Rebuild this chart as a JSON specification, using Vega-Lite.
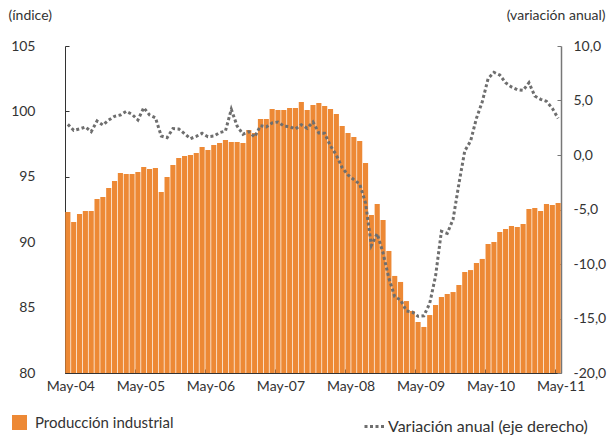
{
  "$schema": "https://vega.github.io/schema/vega-lite/v6.json",
  "autosize": {"type": "none"},
  "padding": {"left": 65, "top": 46, "right": 52, "bottom": 63},
  "width": 496,
  "height": 327,
  "config": {
    "view": {"stroke": null},
    "font": "Lato",
    "axis": {"grid": false, "labelFont": "Lato", "labelFontSize": 14, "labelColor": "#333333", "titleFont": "Lato", "titleFontSize": 14, "titleFontWeight": "normal", "titleColor": "#333333"},
    "legend": {"labelFont": "Lato", "labelFontSize": 15, "labelColor": "#333333", "padding": 0, "labelLimit": 400}
  },
  "data": {"values": [
    {"mes":"May-04","ip":92.31,"va":2.81},
    {"mes":"Jun-04","ip":91.54,"va":2.26},
    {"mes":"Jul-04","ip":92.16,"va":2.39},
    {"mes":"Ago-04","ip":92.39,"va":2.57},
    {"mes":"Sep-04","ip":92.39,"va":2.14},
    {"mes":"Oct-04","ip":93.30,"va":3.12},
    {"mes":"Nov-04","ip":93.46,"va":2.75},
    {"mes":"Dic-04","ip":94.14,"va":3.21},
    {"mes":"Ene-05","ip":94.68,"va":3.55},
    {"mes":"Feb-05","ip":95.29,"va":3.67},
    {"mes":"Mar-05","ip":95.21,"va":4.0},
    {"mes":"Abr-05","ip":95.21,"va":3.73},
    {"mes":"May-05","ip":95.37,"va":3.21},
    {"mes":"Jun-05","ip":95.75,"va":4.34},
    {"mes":"Jul-05","ip":95.60,"va":3.67},
    {"mes":"Ago-05","ip":95.67,"va":3.42},
    {"mes":"Sep-05","ip":93.84,"va":1.74},
    {"mes":"Oct-05","ip":94.98,"va":1.59},
    {"mes":"Nov-05","ip":95.90,"va":2.42},
    {"mes":"Dic-05","ip":96.44,"va":2.39},
    {"mes":"Ene-06","ip":96.59,"va":1.95},
    {"mes":"Feb-06","ip":96.67,"va":1.50},
    {"mes":"Mar-06","ip":96.82,"va":1.71},
    {"mes":"Abr-06","ip":97.28,"va":1.99},
    {"mes":"May-06","ip":97.05,"va":1.68},
    {"mes":"Jun-06","ip":97.43,"va":1.74},
    {"mes":"Jul-06","ip":97.58,"va":2.05},
    {"mes":"Ago-06","ip":97.81,"va":2.20},
    {"mes":"Sep-06","ip":97.66,"va":4.19},
    {"mes":"Oct-06","ip":97.66,"va":2.66},
    {"mes":"Nov-06","ip":97.58,"va":1.90},
    {"mes":"Dic-06","ip":98.58,"va":2.14},
    {"mes":"Ene-07","ip":98.35,"va":1.65},
    {"mes":"Feb-07","ip":99.42,"va":2.69},
    {"mes":"Mar-07","ip":99.42,"va":2.57},
    {"mes":"Abr-07","ip":100.18,"va":2.94},
    {"mes":"May-07","ip":100.11,"va":3.03},
    {"mes":"Jun-07","ip":100.11,"va":2.66},
    {"mes":"Jul-07","ip":100.26,"va":2.60},
    {"mes":"Ago-07","ip":100.26,"va":2.39},
    {"mes":"Sep-07","ip":100.72,"va":2.78},
    {"mes":"Oct-07","ip":100.11,"va":2.45},
    {"mes":"Nov-07","ip":100.49,"va":3.03},
    {"mes":"Dic-07","ip":100.64,"va":2.02},
    {"mes":"Ene-08","ip":100.41,"va":1.99},
    {"mes":"Feb-08","ip":100.18,"va":0.83},
    {"mes":"Mar-08","ip":99.80,"va":0.0},
    {"mes":"Abr-08","ip":98.88,"va":-1.16},
    {"mes":"May-08","ip":98.35,"va":-1.83},
    {"mes":"Jun-08","ip":98.04,"va":-2.26},
    {"mes":"Jul-08","ip":97.74,"va":-2.66},
    {"mes":"Ago-08","ip":96.06,"va":-4.4},
    {"mes":"Sep-08","ip":92.08,"va":-8.3},
    {"mes":"Oct-08","ip":92.92,"va":-7.22},
    {"mes":"Nov-08","ip":91.70,"va":-8.99},
    {"mes":"Dic-08","ip":89.33,"va":-11.3},
    {"mes":"Ene-09","ip":87.42,"va":-13.0},
    {"mes":"Feb-09","ip":86.96,"va":-13.3},
    {"mes":"Mar-09","ip":85.50,"va":-14.3},
    {"mes":"Abr-09","ip":84.74,"va":-14.4},
    {"mes":"May-09","ip":83.90,"va":-14.8},
    {"mes":"Jun-09","ip":83.52,"va":-14.75},
    {"mes":"Jul-09","ip":84.43,"va":-13.6},
    {"mes":"Ago-09","ip":85.20,"va":-11.1},
    {"mes":"Sep-09","ip":85.81,"va":-7.0},
    {"mes":"Oct-09","ip":86.04,"va":-7.19},
    {"mes":"Nov-09","ip":86.19,"va":-5.9},
    {"mes":"Dic-09","ip":86.73,"va":-2.63},
    {"mes":"Ene-10","ip":87.72,"va":0.37},
    {"mes":"Feb-10","ip":87.87,"va":1.28},
    {"mes":"Mar-10","ip":88.41,"va":3.36},
    {"mes":"Abr-10","ip":88.72,"va":4.89},
    {"mes":"May-10","ip":89.86,"va":7.0},
    {"mes":"Jun-10","ip":90.02,"va":7.58},
    {"mes":"Jul-10","ip":90.78,"va":7.34},
    {"mes":"Ago-10","ip":91.01,"va":6.63},
    {"mes":"Sep-10","ip":91.24,"va":6.24},
    {"mes":"Oct-10","ip":91.16,"va":5.99},
    {"mes":"Nov-10","ip":91.39,"va":5.93},
    {"mes":"Dic-10","ip":92.54,"va":6.63},
    {"mes":"Ene-11","ip":92.61,"va":5.41},
    {"mes":"Feb-11","ip":92.39,"va":5.11},
    {"mes":"Mar-11","ip":92.92,"va":4.92},
    {"mes":"Abr-11","ip":92.84,"va":4.28},
    {"mes":"May-11","ip":93.00,"va":3.36}
  ]},
  "encoding": {
    "x": {
      "field": "mes", "type": "ordinal", "sort": null,
      "scale": {"paddingInner": 0.12, "paddingOuter": 0.05},
      "axis": {
        "title": null, "labelAngle": 0,
        "values": ["May-04","May-05","May-06","May-07","May-08","May-09","May-10","May-11"],
        "bandPosition": 0, "labelOffset": 3,
        "domainColor": "#333333", "tickColor": "#333333", "tickSize": -4,
        "labelPadding": 10, "labelBaseline": "top"
      }
    }
  },
  "layer": [
    {
      "mark": {"type": "bar"},
      "encoding": {
        "y": {
          "field": "ip", "type": "quantitative",
          "scale": {"domain": [80, 105], "nice": false, "zero": false},
          "axis": {
            "orient": "left", "values": [80, 85, 90, 95, 100, 105],
            "domainColor": "#333333", "tickColor": "#333333", "tickSize": -4, "labelPadding": 34,
            "title": "(índice)", "titleAngle": 0, "titleAlign": "left", "titleBaseline": "middle",
            "titleX": -57, "titleY": -31
          }
        },
        "y2": {"datum": 80},
        "color": {
          "datum": "Producción industrial",
          "scale": {"range": ["#ED8935"]},
          "legend": {
            "title": null, "orient": "none", "legendX": -53, "legendY": 369,
            "symbolType": "square", "symbolSize": 225, "symbolStrokeWidth": 0, "labelOffset": 8
          }
        }
      }
    },
    {
      "mark": {"type": "line", "color": "#6E6E6E", "strokeWidth": 3, "strokeCap": "butt"},
      "encoding": {
        "y": {
          "field": "va", "type": "quantitative",
          "scale": {"domain": [-20, 10], "nice": false, "zero": false},
          "axis": {
            "orient": "right", "values": [-20, -15, -10, -5, 0, 5, 10],
            "labelExpr": "replace(replace(format(datum.value, '.1f'), '.', ','), '\u2212', '-')",
            "domainColor": "#777777", "domainWidth": 1.5, "tickColor": "#777777", "tickSize": -4, "labelPadding": 16,
            "title": "(variación anual)", "titleAngle": 0, "titleAlign": "right", "titleBaseline": "middle",
            "titleX": 44, "titleY": -31
          }
        },
        "strokeDash": {
          "datum": "Variación anual (eje derecho)",
          "scale": {"range": [[3, 2.5]]},
          "legend": {
            "title": null, "orient": "none", "legendX": 298, "legendY": 368,
            "symbolType": "stroke", "symbolSize": 484, "symbolStrokeColor": "#6E6E6E", "symbolStrokeWidth": 3,
            "labelOffset": 0, "labelFontSize": 16
          }
        }
      }
    }
  ],
  "resolve": {"scale": {"y": "independent"}}
}
